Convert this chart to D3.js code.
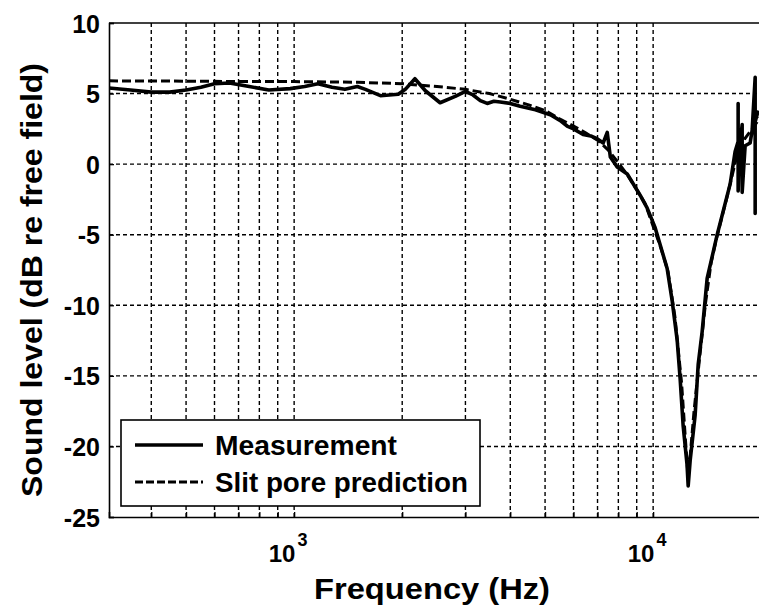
<!DOCTYPE html>
<html lang="en">
<head>
    <meta charset="UTF-8">
    <title>Sound level vs frequency</title>
    <style>
        body { margin: 0; background: #fff; }
        svg text { font-family: "Liberation Sans", Arial, sans-serif; font-weight: bold; fill: #000; }
    </style>
    <script src="https://d3js.org/d3.v7.min.js"></script>
</head>
<body>
    <script>
        // data
        const measFreq = [305, 350, 400, 450, 500, 550, 600, 660, 750, 850, 975, 1070, 1165, 1275, 1385,
            1500, 1580, 1740, 1950, 2040, 2170, 2320, 2550, 2810, 3000, 3150, 3300, 3450, 3600, 3750,
            4000, 4260, 4700, 5170, 5500, 5760, 6000, 6380, 6700, 6980, 7260, 7450, 7600, 7940, 8470,
            9200, 9620, 10130, 10940, 11300, 11670, 11890, 12120, 12430, 12520, 12680, 13090, 13350,
            13690, 14140, 15080, 16390, 16920, 17250, 17250, 17250, 17360, 17700, 17700, 18040, 18630,
            18870, 19240, 19240, 19240, 19620];
        const measDb = [5.4, 5.25, 5.1, 5.1, 5.25, 5.45, 5.7, 5.75, 5.5, 5.25, 5.35, 5.5, 5.7, 5.45, 5.3,
            5.5, 5.3, 4.85, 4.95, 5.3, 6.05, 5.2, 4.35, 4.8, 5.15, 4.9, 4.5, 4.3, 4.45, 4.4,
            4.3, 4.1, 3.85, 3.5, 3.1, 2.7, 2.5, 2.1, 2.0, 1.8, 1.5, 2.25, 0.5, -0.2, -0.7,
            -2.2, -3.1, -4.5, -7.4, -9.7, -12.5, -15.2, -18.5, -21.3, -22.8, -21.0, -17.8, -14.2,
            -11.9, -8.1, -5.0, -1.4, 0.9, 1.6, 4.3, -1.9, 0.8, 2.8, -2.0, 1.3, 1.5,
            2.4, 6.15, -3.5, 3.0, 3.8];

        const predFreq = [305, 500, 700, 1000, 1500, 2000, 2500, 3000, 3500, 4000, 4500, 5000, 5500,
            6000, 6500, 7000, 7500, 8000, 8500, 9000, 9500, 10000, 10500, 11000, 11500, 12000, 12300,
            12500, 12700, 13000, 13500, 14000, 14500, 15000, 16000, 17000, 18000, 19000, 20000];
        const predDb = [5.9, 5.88, 5.85, 5.85, 5.8, 5.7, 5.5, 5.3, 5.0, 4.6, 4.2, 3.8, 3.2,
            2.7, 2.2, 1.7, 1.0, 0.1, -0.8, -1.8, -2.8, -4.4, -5.9, -7.6, -10.8, -15.5, -19.5,
            -22.0, -20.5, -17.5, -13.5, -9.8, -7.0, -5.3, -2.5, 0.3, 1.8, 2.6, 3.4];

        const yTicks = [10, 5, 0, -5, -10, -15, -20, -25];
        const xMajor = [1000, 10000];
        const xMinor = [400, 500, 600, 700, 800, 900, 2000, 3000, 4000, 5000, 6000, 7000, 8000, 9000];
        const legendLabels = ["Measurement", "Slit pore prediction"];

        const W = 759, H = 610;
        const LEFT = 109, TOP = 23, BOTTOM = 517;
        const DECADE = 359; // px per decade
        const F_MIN = 305, F_MAX = 20000;

        const svg = d3.select("body").append("svg")
            .attr("width", W)
            .attr("height", H);

        const x = d3.scaleLog()
            .domain([F_MIN, F_MAX])
            .range([LEFT, LEFT + DECADE * Math.log10(F_MAX / F_MIN)]);
        const y = d3.scaleLinear()
            .domain([-25, 10])
            .range([BOTTOM, TOP]);
        const RIGHT = x(F_MAX);

        svg.append("clipPath").attr("id", "plot")
            .append("rect")
            .attr("x", LEFT).attr("y", TOP - 2)
            .attr("width", RIGHT - LEFT).attr("height", BOTTOM - TOP + 4);

        // grid
        const grid = svg.append("g")
            .attr("stroke", "#000")
            .attr("stroke-width", 1.4)
            .attr("stroke-dasharray", "4,3");
        grid.selectAll(".vg")
            .data(xMinor.concat(xMajor))
            .enter().append("line")
            .attr("x1", d => x(d)).attr("x2", d => x(d))
            .attr("y1", TOP).attr("y2", BOTTOM);
        grid.selectAll(".hg")
            .data(yTicks.slice(1, -1))
            .enter().append("line")
            .attr("x1", LEFT).attr("x2", RIGHT)
            .attr("y1", d => y(d)).attr("y2", d => y(d));

        // axes
        const yAxis = svg.append("g")
            .attr("transform", `translate(${LEFT},0)`)
            .call(d3.axisLeft(y).tickValues(yTicks).tickSize(-5).tickPadding(9)
                .tickFormat(d => String(d)));
        yAxis.selectAll("text").attr("font-size", 25).attr("dy", "0.36em");

        svg.append("g")
            .attr("transform", `translate(0,${BOTTOM})`)
            .call(d3.axisBottom(x).tickValues(xMajor.concat(xMinor)).tickSize(-5).tickFormat(""));

        svg.selectAll(".domain").attr("stroke-width", 1.6);
        svg.selectAll(".tick line").attr("stroke-width", 1.3);

        // top border
        svg.append("line")
            .attr("x1", LEFT).attr("x2", RIGHT)
            .attr("y1", TOP).attr("y2", TOP)
            .attr("stroke", "#000").attr("stroke-width", 1.6);

        // 10^n labels
        const pow = svg.append("g").selectAll("text")
            .data(xMajor)
            .enter().append("text")
            .attr("x", d => x(d) - 6)
            .attr("y", 562)
            .attr("text-anchor", "middle")
            .attr("font-size", 24);
        pow.append("tspan").text("10");
        pow.append("tspan")
            .attr("dx", 2).attr("dy", -16)
            .attr("font-size", 18)
            .text(d => Math.round(Math.log10(d)));

        // axis titles
        svg.append("text")
            .attr("x", 432).attr("y", 599)
            .attr("text-anchor", "middle")
            .attr("font-size", 29)
            .attr("textLength", 236)
            .attr("lengthAdjust", "spacingAndGlyphs")
            .text("Frequency (Hz)");
        svg.append("text")
            .attr("transform", "translate(42,280) rotate(-90)")
            .attr("text-anchor", "middle")
            .attr("font-size", 30)
            .attr("textLength", 434)
            .attr("lengthAdjust", "spacingAndGlyphs")
            .text("Sound level (dB re free field)");

        // curves
        const line = d3.line().x(d => x(d[0])).y(d => y(d[1]));
        const plot = svg.append("g").attr("clip-path", "url(#plot)");

        plot.append("path")
            .datum(measFreq.map((f, i) => [f, measDb[i]]))
            .attr("d", line)
            .attr("fill", "none")
            .attr("stroke", "#000")
            .attr("stroke-width", 3.6)
            .attr("stroke-linejoin", "round");

        plot.append("path")
            .datum(predFreq.map((f, i) => [f, predDb[i]]))
            .attr("d", line)
            .attr("fill", "none")
            .attr("stroke", "#000")
            .attr("stroke-width", 3)
            .attr("stroke-dasharray", "9,4");

        // legend
        const lg = svg.append("g");
        lg.append("rect")
            .attr("x", 121).attr("y", 420)
            .attr("width", 359).attr("height", 86)
            .attr("fill", "#fff")
            .attr("stroke", "#000")
            .attr("stroke-width", 1.6);
        const legendWidths = [182, 253];
        const rows = lg.selectAll(".row")
            .data(legendLabels)
            .enter().append("g")
            .attr("transform", (d, i) => `translate(0,${445 + i * 37})`);
        rows.append("line")
            .attr("x1", 135).attr("x2", 203)
            .attr("stroke", "#000")
            .attr("stroke-width", (d, i) => i === 0 ? 3.6 : 3)
            .attr("stroke-dasharray", (d, i) => i === 0 ? null : "8,3");
        rows.append("text")
            .attr("x", 215).attr("y", 10)
            .attr("font-size", 27)
            .attr("textLength", (d, i) => legendWidths[i])
            .attr("lengthAdjust", "spacingAndGlyphs")
            .text(d => d);
    </script>
</body>
</html>
